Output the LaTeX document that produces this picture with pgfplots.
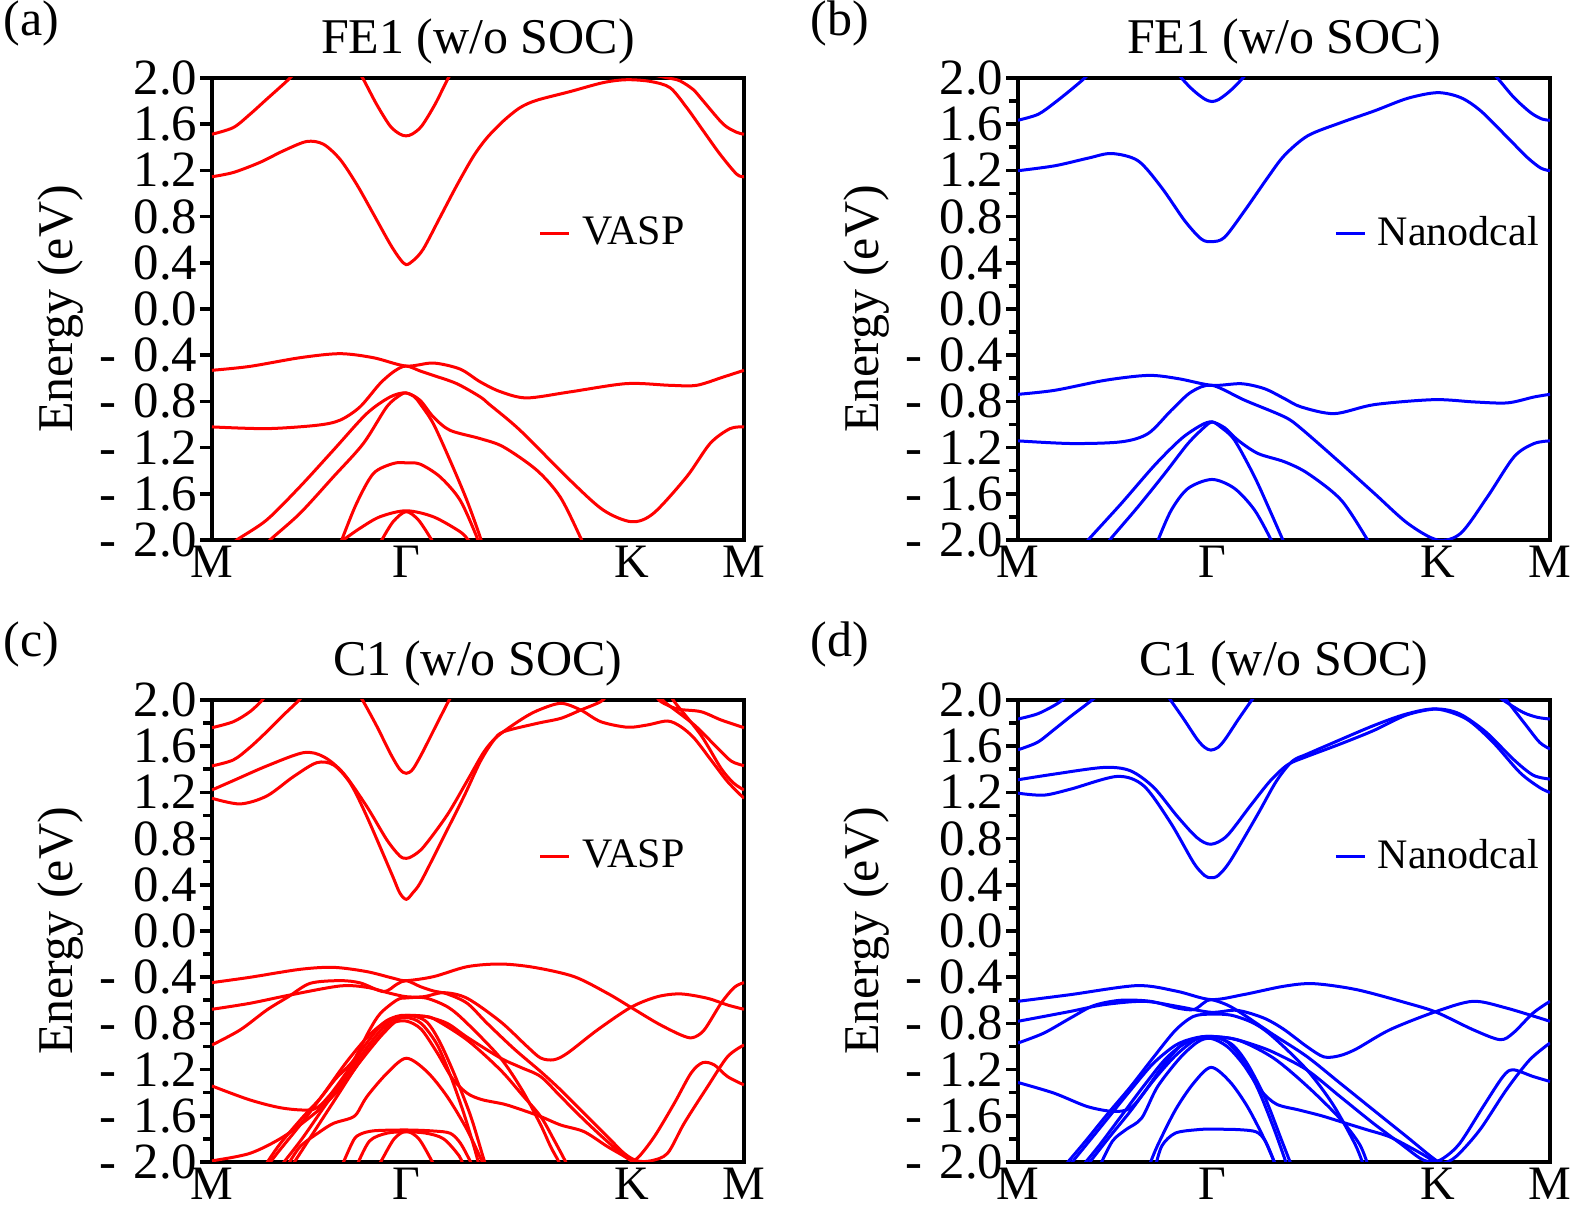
\documentclass[border=0pt]{standalone}
\usepackage{fontspec}
\setmainfont{Liberation Serif}
\usepackage{pgfplots}
\pgfplotsset{compat=1.18}
\newcommand\mn{-\kern0.35em}

\pgfplotsset{
  bandaxis/.style={
    scale only axis, width=133pt, height=115.5pt, anchor=south west,
    xmin=0, xmax=2.366, ymin=-2, ymax=2,
    xtick={0,0.866,1.866,2.366}, xticklabels={M,Γ,K,M},
    xtick style={draw=none},
    ytick={-2,-1.6,-1.2,-0.8,-0.4,0,0.4,0.8,1.2,1.6,2},
    yticklabels={\mn2.0,\mn1.6,\mn1.2,\mn0.8,\mn0.4,0.0,0.4,0.8,1.2,1.6,2.0},
    ytick pos=left, tick align=outside,
    major tick length=3pt, minor tick length=2.2pt,
    ytick style={line width=0.9pt, black},
    axis line style={line width=0.9pt},
    yticklabel style={inner sep=0pt, xshift=-0.5pt, font=\fontsize{12.7}{14}\selectfont},
    xticklabel style={inner sep=0pt, yshift=1.75pt, font=\fontsize{12}{14}\selectfont},
    title style={font=\fontsize{12.5}{15}\selectfont, anchor=base},
    ylabel={Energy (eV)},
    every axis y label/.style={at={(axis description cs:-0.263,0.5)}, rotate=90,
      anchor=base, font=\fontsize{12.5}{15}\selectfont},
    legend style={draw=none, fill=none, anchor=west, inner sep=0pt,
      font=\fontsize{10.5}{12}\selectfont,
      /tikz/every odd column/.append style={column sep=0.9pt}},
    legend image code/.code={\draw[#1] (0pt,0pt) -- (7.25pt,0pt);},
  },
  r/.style={red, smooth, line width=0.75pt, no markers},
  b/.style={blue, smooth, line width=0.75pt, no markers},
}

\begin{document}
\begin{tikzpicture}
\path[use as bounding box] (0,0) rectangle (394.5pt,301.5pt);

% (a) FE1 VASP
\begin{axis}[bandaxis, at={(53pt,166.5pt)}, title={FE1 (w/o SOC)},
  legend style={at={(0.613,0.663)}}]
\addplot[r] coordinates {(0,1.513) (0.095,1.571) (0.169,1.686) (0.243,1.816) (0.317,1.945) (0.347,2.0) (0.37,2.05)};
\addlegendentry{VASP}
\addplot[r] coordinates {(0.64,2.08) (0.670,2.0) (0.732,1.772) (0.792,1.585) (0.835,1.515) (0.863,1.499) (0.891,1.515) (0.933,1.585) (0.992,1.772) (1.051,2.0) (1.08,2.08)};
\addplot[r] coordinates {(0,1.145) (0.095,1.182) (0.213,1.269) (0.317,1.369) (0.421,1.450) (0.495,1.427) (0.569,1.297) (0.643,1.081) (0.718,0.822) (0.792,0.563) (0.836,0.433) (0.863,0.384) (0.895,0.419) (0.940,0.520) (1.014,0.793) (1.088,1.067) (1.162,1.32) (1.222,1.48) (1.296,1.628) (1.370,1.743) (1.444,1.807) (1.592,1.882) (1.740,1.96) (1.844,1.985) (1.95,1.97) (2.037,1.916) (2.111,1.744) (2.185,1.542) (2.259,1.341) (2.333,1.168) (2.366,1.145)};
\addplot[r] coordinates {(1.95,2.03) (2.03,2.0) (2.081,1.975) (2.14,1.90) (2.185,1.80) (2.274,1.600) (2.333,1.530) (2.366,1.513)};
\addplot[r] coordinates {(0,-0.531) (0.169,-0.497) (0.391,-0.422) (0.569,-0.387) (0.718,-0.422) (0.863,-0.494) (0.984,-0.468) (1.103,-0.52) (1.192,-0.63) (1.281,-0.715) (1.399,-0.770) (1.592,-0.718) (1.844,-0.646) (2.037,-0.661) (2.155,-0.661) (2.274,-0.589) (2.366,-0.531)};
\addplot[r] coordinates {(0,-1.021) (0.243,-1.036) (0.466,-1.007) (0.569,-0.963) (0.658,-0.848) (0.747,-0.646) (0.81,-0.54) (0.863,-0.494) (0.93,-0.54) (0.984,-0.575) (1.088,-0.646) (1.192,-0.76) (1.236,-0.83) (1.370,-1.050) (1.592,-1.482) (1.740,-1.741) (1.866,-1.842) (1.963,-1.770) (2.111,-1.453) (2.215,-1.165) (2.304,-1.036) (2.366,-1.021)};
\addplot[r] coordinates {(0.10,-2.03) (0.110,-2.0) (0.243,-1.827) (0.391,-1.539) (0.540,-1.222) (0.688,-0.906) (0.792,-0.762) (0.863,-0.727) (0.925,-0.79) (0.984,-0.934) (1.058,-1.050) (1.192,-1.122) (1.296,-1.194) (1.444,-1.395) (1.548,-1.626) (1.637,-1.971) (1.65,-2.04)};
\addplot[r] coordinates {(0.245,-2.04) (0.258,-2.0) (0.391,-1.770) (0.540,-1.453) (0.673,-1.165) (0.777,-0.848) (0.836,-0.747) (0.863,-0.727) (0.90,-0.76) (0.925,-0.819) (0.984,-0.992) (1.058,-1.308) (1.133,-1.654) (1.192,-1.971) (1.2,-2.04)};
\addplot[r] coordinates {(0.57,-2.04) (0.577,-2.0) (0.643,-1.683) (0.718,-1.424) (0.806,-1.338) (0.863,-1.332) (0.925,-1.343) (1.014,-1.453) (1.103,-1.654) (1.177,-1.971) (1.185,-2.04)};
\addplot[r] coordinates {(0.56,-2.04) (0.584,-2.0) (0.658,-1.899) (0.747,-1.799) (0.863,-1.747) (0.984,-1.799) (1.103,-1.928) (1.140,-2.0) (1.16,-2.04)};
\addplot[r] coordinates {(0.745,-2.04) (0.755,-2.0) (0.806,-1.841) (0.863,-1.755) (0.918,-1.827) (0.977,-2.0) (0.985,-2.04)};
\end{axis}

% (b) FE1 Nanodcal
\begin{axis}[bandaxis, at={(254.5pt,166.5pt)}, title={FE1 (w/o SOC)},
  minor y tick num=1, legend style={at={(0.593,0.663)}}]
\addplot[b] coordinates {(0,1.634) (0.090,1.686) (0.164,1.787) (0.238,1.902) (0.297,2.0) (0.32,2.05)};
\addlegendentry{Nanodcal}
\addplot[b] coordinates {(0.70,2.07) (0.727,2.0) (0.765,1.92) (0.80,1.86) (0.835,1.812) (0.863,1.796) (0.891,1.812) (0.926,1.86) (0.961,1.92) (1.0,2.0) (1.03,2.07)};
\addplot[b] coordinates {(0,1.197) (0.164,1.240) (0.312,1.306) (0.416,1.346) (0.534,1.283) (0.638,1.053) (0.741,0.765) (0.815,0.606) (0.863,0.583) (0.919,0.621) (1.008,0.851) (1.111,1.139) (1.185,1.33) (1.289,1.50) (1.437,1.614) (1.585,1.715) (1.733,1.824) (1.866,1.873) (1.969,1.830) (2.058,1.715) (2.177,1.485) (2.265,1.312) (2.325,1.220) (2.366,1.197)};
\addplot[b] coordinates {(2.10,2.06) (2.132,2.0) (2.206,1.830) (2.280,1.700) (2.33,1.645) (2.366,1.634)};
\addplot[b] coordinates {(0,-0.739) (0.164,-0.704) (0.386,-0.618) (0.579,-0.575) (0.712,-0.603) (0.863,-0.661) (0.993,-0.647) (1.096,-0.690) (1.185,-0.776) (1.259,-0.848) (1.407,-0.906) (1.585,-0.828) (1.851,-0.785) (2.029,-0.805) (2.177,-0.813) (2.295,-0.762) (2.366,-0.739)};
\addplot[b] coordinates {(0,-1.142) (0.238,-1.165) (0.460,-1.150) (0.579,-1.078) (0.682,-0.877) (0.771,-0.718) (0.863,-0.661) (1.008,-0.790) (1.185,-0.934) (1.259,-1.035) (1.437,-1.338) (1.585,-1.597) (1.733,-1.856) (1.866,-2.0) (1.969,-1.942) (2.088,-1.626) (2.206,-1.280) (2.295,-1.165) (2.366,-1.142)};
\addplot[b] coordinates {(0.30,-2.04) (0.312,-2.0) (0.460,-1.683) (0.608,-1.352) (0.727,-1.122) (0.815,-1.006) (0.863,-0.978) (0.92,-1.03) (0.978,-1.136) (1.067,-1.251) (1.185,-1.323) (1.289,-1.424) (1.437,-1.654) (1.555,-2.0) (1.57,-2.05)};
\addplot[b] coordinates {(0.40,-2.04) (0.408,-2.0) (0.534,-1.712) (0.653,-1.424) (0.756,-1.165) (0.830,-1.021) (0.863,-0.978) (0.90,-1.02) (0.963,-1.136) (1.052,-1.453) (1.126,-1.770) (1.178,-2.0) (1.19,-2.05)};
\addplot[b] coordinates {(0.615,-2.05) (0.623,-2.0) (0.682,-1.741) (0.756,-1.554) (0.863,-1.476) (0.963,-1.554) (1.052,-1.741) (1.126,-2.0) (1.135,-2.05)};
\end{axis}

% (c) C1 VASP
\begin{axis}[bandaxis, at={(53pt,11pt)}, title={C1 (w/o SOC)},
  minor y tick num=1, legend style={at={(0.613,0.661)}}]
\addplot[r] coordinates {(0,1.760) (0.095,1.812) (0.169,1.899) (0.221,1.994) (0.24,2.05)};
\addlegendentry{VASP}
\addplot[r] coordinates {(0,1.429) (0.095,1.481) (0.169,1.590) (0.244,1.726) (0.318,1.870) (0.385,1.994) (0.40,2.03)};
\addplot[r] coordinates {(0.65,2.05) (0.671,1.994) (0.734,1.769) (0.793,1.538) (0.835,1.40) (0.864,1.365) (0.893,1.40) (0.934,1.538) (0.994,1.769) (1.053,1.994) (1.07,2.05)};
\addplot[r] coordinates {(0,1.221) (0.095,1.302) (0.244,1.429) (0.407,1.544) (0.496,1.509) (0.585,1.365) (0.689,1.076) (0.778,0.788) (0.835,0.65) (0.864,0.629) (0.893,0.65) (0.942,0.730) (1.046,1.004) (1.135,1.30) (1.209,1.55) (1.268,1.683) (1.372,1.827) (1.447,1.908) (1.551,1.971) (1.640,1.913) (1.729,1.812) (1.848,1.764) (1.937,1.784) (2.026,1.818) (2.085,1.769) (2.145,1.668) (2.219,1.481) (2.293,1.293) (2.366,1.149)};
\addplot[r] coordinates {(0,1.149) (0.125,1.100) (0.244,1.169) (0.362,1.336) (0.466,1.457) (0.541,1.437) (0.615,1.279) (0.689,0.990) (0.80,0.49) (0.835,0.33) (0.864,0.274) (0.893,0.33) (0.93,0.43) (1.031,0.817) (1.120,1.163) (1.194,1.47) (1.254,1.654) (1.298,1.726) (1.447,1.798) (1.551,1.841) (1.640,1.913) (1.729,1.986) (1.76,2.05)};
\addplot[r] coordinates {(1.97,2.05) (1.996,1.986) (2.070,1.922) (2.174,1.899) (2.264,1.827) (2.366,1.760)};
\addplot[r] coordinates {(1.99,2.05) (2.011,1.986) (2.145,1.784) (2.249,1.582) (2.310,1.47) (2.366,1.431)};
\addplot[r] coordinates {(2.04,2.05) (2.056,1.986) (2.174,1.697) (2.264,1.408) (2.320,1.28) (2.366,1.221)};
\addplot[r] coordinates {(0,-0.447) (0.169,-0.401) (0.392,-0.332) (0.541,-0.315) (0.689,-0.352) (0.808,-0.410) (0.864,-0.430) (0.986,-0.395) (1.135,-0.309) (1.283,-0.286) (1.432,-0.315) (1.610,-0.395) (1.759,-0.540) (1.863,-0.661) (1.981,-0.799) (2.085,-0.900) (2.137,-0.924) (2.189,-0.857) (2.264,-0.626) (2.323,-0.488) (2.366,-0.447)};
\addplot[r] coordinates {(0,-0.678) (0.169,-0.626) (0.348,-0.554) (0.570,-0.476) (0.689,-0.488) (0.793,-0.540) (0.864,-0.569) (0.942,-0.569) (1.031,-0.534) (1.135,-0.583) (1.283,-0.785) (1.402,-1.001) (1.462,-1.10) (1.52,-1.115) (1.580,-1.059) (1.714,-0.857) (1.863,-0.661) (1.981,-0.569) (2.085,-0.545) (2.204,-0.583) (2.293,-0.641) (2.366,-0.678)};
\addplot[r] coordinates {(0,-0.987) (0.125,-0.857) (0.244,-0.684) (0.340,-0.569) (0.437,-0.453) (0.570,-0.430) (0.66,-0.45) (0.763,-0.525) (0.823,-0.46) (0.864,-0.430) (0.927,-0.482) (0.986,-0.520) (1.046,-0.545) (1.135,-0.626) (1.224,-0.80) (1.343,-1.02) (1.462,-1.218) (1.551,-1.377) (1.655,-1.579) (1.759,-1.781) (1.833,-1.925) (1.89,-1.99) (1.952,-1.99) (2.026,-1.925) (2.100,-1.665) (2.204,-1.348) (2.293,-1.088) (2.366,-0.987)};
\addplot[r] coordinates {(0,-1.342) (0.169,-1.463) (0.318,-1.535) (0.451,-1.544) (0.52,-1.43) (0.60,-1.22) (0.68,-0.99) (0.76,-0.80) (0.82,-0.74) (0.864,-0.73) (0.95,-0.74) (1.046,-0.80) (1.135,-0.92) (1.283,-1.10) (1.372,-1.18) (1.462,-1.261) (1.551,-1.434) (1.655,-1.636) (1.759,-1.824) (1.848,-1.968) (1.89,-1.97) (1.967,-1.781) (2.056,-1.492) (2.130,-1.232) (2.182,-1.140) (2.234,-1.160) (2.293,-1.261) (2.366,-1.333)};
\addplot[r] coordinates {(0,-1.99) (0.169,-1.925) (0.318,-1.781) (0.466,-1.564) (0.570,-1.362) (0.659,-1.131) (0.749,-0.915) (0.823,-0.771) (0.864,-0.736) (0.93,-0.74) (0.986,-0.76) (1.135,-0.944) (1.283,-1.204) (1.38,-1.42) (1.462,-1.607) (1.521,-1.809) (1.573,-2.0) (1.58,-2.05)};
\addplot[r] coordinates {(0.23,-2.05) (0.30,-1.85) (0.40,-1.62) (0.481,-1.45) (0.55,-1.28) (0.630,-1.117) (0.70,-0.86) (0.749,-0.713) (0.823,-0.597) (0.864,-0.58) (0.95,-0.58) (1.05,-0.66) (1.135,-0.80) (1.283,-1.10) (1.38,-1.38) (1.462,-1.68) (1.506,-1.867) (1.543,-2.0) (1.55,-2.05)};
\addplot[r] coordinates {(0.24,-2.05) (0.30,-1.90) (0.40,-1.66) (0.50,-1.40) (0.60,-1.13) (0.70,-0.90) (0.78,-0.78) (0.864,-0.75) (0.93,-0.80) (1.00,-0.98) (1.06,-1.25) (1.12,-1.58) (1.17,-1.90) (1.19,-2.05)};
\addplot[r] coordinates {(0.30,-2.05) (0.40,-1.80) (0.50,-1.52) (0.60,-1.25) (0.70,-0.98) (0.78,-0.80) (0.864,-0.73) (0.95,-0.78) (1.01,-0.95) (1.08,-1.25) (1.15,-1.60) (1.20,-1.92) (1.22,-2.05)};
\addplot[r] coordinates {(0.33,-2.05) (0.392,-1.867) (0.481,-1.737) (0.541,-1.665) (0.615,-1.622) (0.645,-1.579) (0.689,-1.434) (0.778,-1.232) (0.864,-1.102) (0.956,-1.218) (1.046,-1.434) (1.135,-1.723) (1.202,-2.0) (1.21,-2.05)};
\addplot[r] coordinates {(0.35,-2.05) (0.45,-1.75) (0.55,-1.45) (0.65,-1.15) (0.74,-0.92) (0.80,-0.80) (0.864,-0.78) (0.93,-0.85) (1.00,-1.05) (1.07,-1.28) (1.135,-1.405) (1.20,-1.46) (1.30,-1.50) (1.38,-1.55) (1.462,-1.607) (1.551,-1.680) (1.655,-1.738) (1.759,-1.867) (1.848,-1.968) (1.907,-2.05)};
\addplot[r] coordinates {(0.575,-2.05) (0.585,-2.0) (0.630,-1.81) (0.659,-1.76) (0.72,-1.73) (0.864,-1.723) (0.986,-1.732) (1.060,-1.752) (1.105,-1.838) (1.150,-2.0) (1.16,-2.05)};
\addplot[r] coordinates {(0.64,-2.05) (0.70,-1.82) (0.78,-1.75) (0.864,-1.74) (0.95,-1.75) (1.03,-1.80) (1.10,-1.95) (1.12,-2.05)};
\addplot[r] coordinates {(0.73,-2.05) (0.75,-2.0) (0.81,-1.80) (0.864,-1.735) (0.92,-1.80) (0.98,-2.0) (0.99,-2.05)};
\end{axis}

% (d) C1 Nanodcal
\begin{axis}[bandaxis, at={(254.5pt,11pt)}, title={C1 (w/o SOC)},
  minor y tick num=1, legend style={at={(0.593,0.661)}}]
\addplot[b] coordinates {(0,1.835) (0.086,1.879) (0.160,1.951) (0.197,2.0) (0.22,2.05)};
\addlegendentry{Nanodcal}
\addplot[b] coordinates {(0,1.569) (0.086,1.633) (0.160,1.743) (0.234,1.858) (0.330,2.0) (0.35,2.04)};
\addplot[b] coordinates {(0.66,2.05) (0.678,2.0) (0.737,1.835) (0.796,1.662) (0.83,1.59) (0.858,1.566) (0.89,1.59) (0.922,1.662) (0.981,1.835) (1.040,2.0) (1.06,2.05)};
\addplot[b] coordinates {(0,1.309) (0.160,1.358) (0.382,1.416) (0.500,1.387) (0.604,1.242) (0.707,0.996) (0.796,0.808) (0.858,0.751) (0.929,0.823) (1.033,1.083) (1.122,1.30) (1.20,1.44) (1.284,1.51) (1.432,1.618) (1.580,1.734) (1.728,1.870) (1.861,1.922) (1.965,1.879) (2.083,1.719) (2.202,1.488) (2.291,1.349) (2.366,1.315)};
\addplot[b] coordinates {(0,1.193) (0.115,1.176) (0.234,1.228) (0.441,1.338) (0.559,1.257) (0.678,0.939) (0.781,0.591) (0.83,0.48) (0.858,0.461) (0.89,0.48) (0.944,0.606) (1.062,0.996) (1.15,1.30) (1.22,1.47) (1.284,1.53) (1.388,1.618) (1.580,1.777) (1.728,1.879) (1.861,1.922) (1.995,1.835) (2.113,1.633) (2.232,1.372) (2.320,1.242) (2.366,1.199)};
\addplot[b] coordinates {(2.13,2.05) (2.157,2.0) (2.246,1.893) (2.31,1.85) (2.366,1.835)};
\addplot[b] coordinates {(2.15,2.05) (2.172,2.0) (2.261,1.777) (2.320,1.633) (2.366,1.575)};
\addplot[b] coordinates {(0,-0.609) (0.234,-0.551) (0.530,-0.473) (0.707,-0.522) (0.858,-0.594) (1.003,-0.551) (1.181,-0.479) (1.314,-0.456) (1.506,-0.508) (1.728,-0.623) (1.861,-0.704) (2.024,-0.855) (2.143,-0.941) (2.202,-0.884) (2.291,-0.710) (2.366,-0.609)};
\addplot[b] coordinates {(0,-0.782) (0.234,-0.696) (0.382,-0.638) (0.559,-0.609) (0.707,-0.652) (0.858,-0.704) (0.974,-0.687) (1.092,-0.753) (1.181,-0.85) (1.284,-1.00) (1.36,-1.09) (1.43,-1.08) (1.506,-1.02) (1.654,-0.855) (1.861,-0.696) (2.024,-0.609) (2.172,-0.667) (2.366,-0.782)};
\addplot[b] coordinates {(0,-0.970) (0.115,-0.884) (0.234,-0.753) (0.337,-0.646) (0.456,-0.600) (0.589,-0.609) (0.707,-0.667) (0.781,-0.681) (0.826,-0.623) (0.858,-0.594) (0.93,-0.64) (1.00,-0.72) (1.136,-0.898) (1.284,-1.086) (1.432,-1.317) (1.580,-1.549) (1.728,-1.780) (1.847,-1.968) (1.89,-2.01) (1.95,-1.95) (2.054,-1.722) (2.172,-1.375) (2.276,-1.115) (2.366,-0.970)};
\addplot[b] coordinates {(0,-1.312) (0.160,-1.404) (0.308,-1.520) (0.426,-1.563) (0.500,-1.534) (0.56,-1.40) (0.64,-1.18) (0.72,-1.00) (0.80,-0.93) (0.858,-0.915) (0.95,-0.93) (1.04,-0.98) (1.136,-1.05) (1.284,-1.202) (1.432,-1.433) (1.580,-1.665) (1.699,-1.838) (1.79,-1.97) (1.84,-2.0) (1.89,-1.97) (1.965,-1.838) (2.069,-1.520) (2.157,-1.260) (2.202,-1.202) (2.291,-1.260) (2.366,-1.303)};
\addplot[b] coordinates {(0.22,-2.05) (0.30,-1.86) (0.40,-1.62) (0.50,-1.38) (0.60,-1.15) (0.70,-0.99) (0.78,-0.93) (0.858,-0.912) (0.986,-0.95) (1.136,-1.10) (1.284,-1.34) (1.43,-1.62) (1.52,-1.85) (1.56,-2.05)};
\addplot[b] coordinates {(0.28,-2.05) (0.36,-1.86) (0.46,-1.60) (0.56,-1.34) (0.66,-1.10) (0.76,-0.95) (0.858,-0.915) (0.95,-0.98) (1.02,-1.15) (1.10,-1.45) (1.17,-1.80) (1.22,-2.05)};
\addplot[b] coordinates {(0.30,-2.05) (0.40,-1.80) (0.50,-1.56) (0.60,-1.30) (0.70,-1.08) (0.79,-0.94) (0.858,-0.912) (0.93,-0.96) (1.00,-1.12) (1.07,-1.38) (1.14,-1.72) (1.20,-2.05)};
\addplot[b] coordinates {(0.36,-2.05) (0.42,-1.82) (0.48,-1.72) (0.55,-1.62) (0.62,-1.35) (0.72,-1.10) (0.80,-0.96) (0.858,-0.93) (0.93,-1.00) (1.00,-1.15) (1.08,-1.38) (1.15,-1.50) (1.25,-1.55) (1.35,-1.60) (1.45,-1.66) (1.55,-1.72) (1.65,-1.78) (1.75,-1.88) (1.83,-1.97) (1.88,-2.05)};
\addplot[b] coordinates {(0.58,-2.05) (0.62,-1.86) (0.70,-1.55) (0.78,-1.32) (0.858,-1.181) (0.94,-1.30) (1.02,-1.52) (1.10,-1.82) (1.15,-2.05)};
\addplot[b] coordinates {(0.61,-2.05) (0.64,-1.86) (0.70,-1.75) (0.80,-1.72) (0.858,-1.716) (0.98,-1.72) (1.06,-1.74) (1.10,-1.82) (1.14,-2.0) (1.15,-2.05)};
\addplot[b] coordinates {(0.20,-2.05) (0.30,-1.82) (0.40,-1.58) (0.50,-1.35) (0.60,-1.10) (0.70,-0.86) (0.78,-0.74) (0.858,-0.72) (0.95,-0.73) (1.05,-0.80) (1.136,-0.92) (1.284,-1.20) (1.40,-1.50) (1.50,-1.85) (1.54,-2.05)};
\end{axis}

\node[anchor=base west, inner sep=0pt, font=\fontsize{12.5}{15}\selectfont] at (0.75pt,292.5pt) {(a)};
\node[anchor=base west, inner sep=0pt, font=\fontsize{12.5}{15}\selectfont] at (202.5pt,292.5pt) {(b)};
\node[anchor=base west, inner sep=0pt, font=\fontsize{12.5}{15}\selectfont] at (0.75pt,137.25pt) {(c)};
\node[anchor=base west, inner sep=0pt, font=\fontsize{12.5}{15}\selectfont] at (202.5pt,137.25pt) {(d)};
\end{tikzpicture}
\end{document}
